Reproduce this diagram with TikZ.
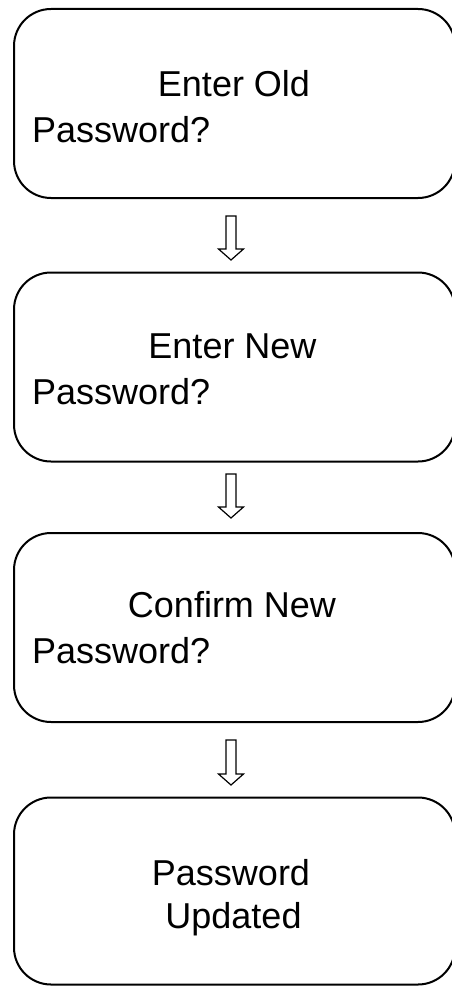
\documentclass[tikz,border=0pt]{standalone}
\usepackage{fontspec}
\setmainfont{Liberation Sans}
\usetikzlibrary{calc}
\tikzset{
  box/.style={draw, line width=2pt, rounded corners=37pt, minimum width=441pt, minimum height=189pt, inner sep=0pt},
  txt/.style={inner sep=0pt, font=\fontsize{36}{46}\selectfont},
  blk/.style={draw, line width=1.2pt, fill=white, line join=miter}
}
\newcommand\blkarrow[2]{%
  \draw[blk] ($(#1)+(-5,0)$) -- ($(#1)+(5,0)$) -- ($(#2)+(5,-11)$) -- ($(#2)+(12.5,-11)$) -- (#2)
    -- ($(#2)+(-12.5,-11)$) -- ($(#2)+(-5,-11)$) -- cycle;}
\begin{document}
\begin{tikzpicture}[x=1pt,y=-1pt]
\useasboundingbox (0,0) rectangle (451,987);
\node[box] (b1) at (234.5,103.5) {};
\node[box] (b2) at (234.5,367) {};
\node[box] (b3) at (234.5,627.5) {};
\node[box, minimum height=187pt] (b4) at (234.5,891) {};

\node[txt, anchor=base] (t1a) at (234,97) {Enter Old};
\node[txt, anchor=base west] (t1b) at (32,143) {Password?};
\node[txt, anchor=base] (t2a) at (232.5,358) {Enter New};
\node[txt, anchor=base west] (t2b) at (32,404) {Password?};
\node[txt, anchor=base] (t3a) at (232,617) {Confirm New};
\node[txt, anchor=base west] (t3b) at (32,663) {Password?};
\node[txt, anchor=base] (t4a) at (231,885) {Password};
\node[txt, anchor=base] (t4b) at (233.5,928) {Updated};

\coordinate (a1s) at (231,216);
\coordinate (a1e) at (231,260);
\coordinate (a2s) at (231,474);
\coordinate (a2e) at (231,518);
\coordinate (a3s) at (231,740);
\coordinate (a3e) at (231,785);
\blkarrow{a1s}{a1e}
\blkarrow{a2s}{a2e}
\blkarrow{a3s}{a3e}
\end{tikzpicture}
\end{document}
